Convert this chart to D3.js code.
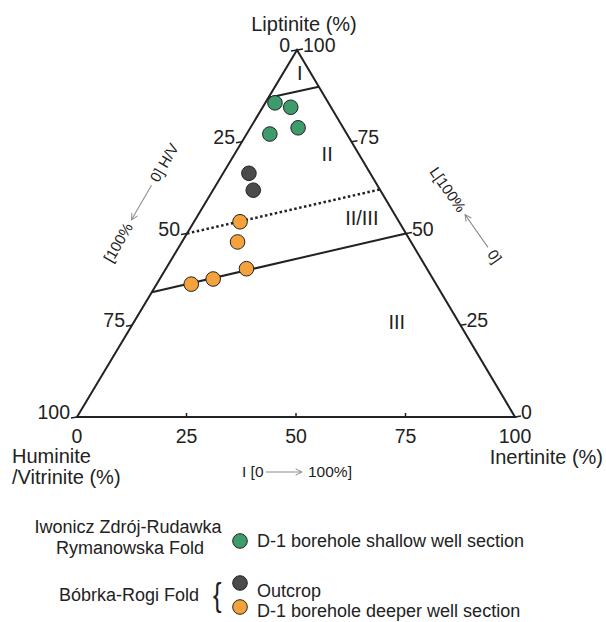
<!DOCTYPE html>
<html>
<head>
<meta charset="utf-8">
<script src="https://cdn.jsdelivr.net/npm/d3@7"></script>
<style>
  body { margin: 0; background: #fff; }
  svg text { font-family: "Liberation Sans", Arial, sans-serif; fill: #222; }
</style>
</head>
<body>
<div id="chart"></div>
<script>
// ternary values: [liptinite %, inertinite %], huminite/vitrinite is the rest
var ticks = [0, 25, 50, 75, 100];

var shallowLip = [85.6, 84.4, 77.1, 78.8];
var shallowIne = [2.2, 6.4, 5.3, 10.9];
var outcropLip = [66.4, 61.8];
var outcropIne = [5.9, 9.2];
var deeperLip = [53.2, 47.7, 40.4, 37.6, 36.2];
var deeperIne = [10.5, 12.7, 18.4, 12.2, 7.9];

// kerogen type boundaries, as [L, I] end points
var lineI_II = [[87, 0], [90, 10]];
var lineII_IIIdot = [[50, 0], [62, 38]];
var lineIII = [[34, 0], [50, 50]];

var regionNames = ["I", "II", "II/III", "III"];
var regionLip = [93.7, 71.7, 54.2, 25.9];
var regionIne = [3.8, 21.1, 37.8, 60];

var legendLabels = ["D-1 borehole shallow well section", "Outcrop", "D-1 borehole deeper well section"];
var colors = ["#3e9b6c", "#4b4b4d", "#f5a23d"];

var W = 606, H = 622;
var left = 77, right = 515, apexX = 297, base = 417, apexY = 50;

var svg = d3.select("#chart").append("svg")
	.attr("width", W)
	.attr("height", H);

var defs = svg.append("defs");
defs.append("marker")
	.attr("id", "head")
	.attr("viewBox", "0 0 10 10")
	.attr("refX", 9).attr("refY", 5)
	.attr("markerWidth", 8).attr("markerHeight", 8)
	.attr("markerUnits", "userSpaceOnUse")
	.attr("orient", "auto")
	.append("path")
	.attr("d", "M1,1 L9,5 L1,9")
	.attr("fill", "none")
	.attr("stroke", "#888")
	.attr("stroke-width", 1.2);

var ineX = d3.scaleLinear().domain([0, 100]).range([0, right - left]);
var lipX = d3.scaleLinear().domain([0, 100]).range([0, apexX - left]);
var lipY = d3.scaleLinear().domain([0, 100]).range([base, apexY]);

function px(L, I) { return left + lipX(L) + ineX(I); }
function py(L) { return lipY(L); }

// triangle
svg.append("path")
	.attr("d", "M" + px(100, 0) + "," + py(100) + "L" + px(0, 100) + "," + py(0) + "L" + px(0, 0) + "," + py(0) + "Z")
	.attr("fill", "none")
	.attr("stroke", "#222")
	.attr("stroke-width", 2)
	.attr("stroke-linejoin", "miter");

// boundary lines
[lineI_II, lineIII].forEach(function(seg) {
	svg.append("line")
		.attr("x1", px(seg[0][0], seg[0][1])).attr("y1", py(seg[0][0]))
		.attr("x2", px(seg[1][0], seg[1][1])).attr("y2", py(seg[1][0]))
		.attr("stroke", "#222").attr("stroke-width", 2);
});
svg.append("line")
	.attr("x1", px(lineII_IIIdot[0][0], lineII_IIIdot[0][1])).attr("y1", py(lineII_IIIdot[0][0]))
	.attr("x2", px(lineII_IIIdot[1][0], lineII_IIIdot[1][1])).attr("y2", py(lineII_IIIdot[1][0]))
	.attr("stroke", "#222").attr("stroke-width", 2.5)
	.style("stroke-dasharray", "2.5,2.5");

// ticks + labels
var tk = svg.append("g").attr("font-size", 19.5);
// bottom: inertinite
ticks.forEach(function(v) {
	var x = px(0, v);
	if (v > 0 && v < 100) {
		tk.append("line").attr("x1", x).attr("x2", x).attr("y1", base).attr("y2", base - 4)
			.attr("stroke", "#222").attr("stroke-width", 1.5);
	}
	tk.append("text").attr("x", x).attr("y", base + 26).attr("text-anchor", "middle").text(v);
});
// left: huminite/vitrinite (0 at top)
ticks.forEach(function(v) {
	var L = 100 - v, x = px(L, 0), y = py(L);
	tk.append("line").attr("x1", x).attr("x2", x - 6).attr("y1", y).attr("y2", y + 1)
		.attr("stroke", "#222").attr("stroke-width", 1.5);
	tk.append("text").attr("x", x - 7).attr("y", y + 2).attr("text-anchor", "end").text(v);
});
// right: liptinite (100 at top)
ticks.forEach(function(v) {
	var x = px(v, 100 - v), y = py(v);
	tk.append("line").attr("x1", x).attr("x2", x + 6).attr("y1", y).attr("y2", y - 1)
		.attr("stroke", "#222").attr("stroke-width", 1.5);
	tk.append("text").attr("x", x + 6).attr("y", y + 2).attr("text-anchor", "start").text(v);
});

// region labels
svg.selectAll("text.region")
	.data(regionNames)
	.enter().append("text")
	.attr("class", "region")
	.attr("font-size", 20)
	.attr("text-anchor", "middle")
	.attr("x", function(d, i) { return px(regionLip[i], regionIne[i]); })
	.attr("y", function(d, i) { return py(regionLip[i]) + 7; })
	.text(function(d) { return d; });

// data points
var groups = [
	{ lip: shallowLip, ine: shallowIne, c: colors[0] },
	{ lip: outcropLip, ine: outcropIne, c: colors[1] },
	{ lip: deeperLip, ine: deeperIne, c: colors[2] }
];
groups.forEach(function(g) {
	svg.append("g").selectAll("circle")
		.data(g.lip)
		.enter().append("circle")
		.attr("cx", function(d, i) { return px(d, g.ine[i]); })
		.attr("cy", function(d) { return py(d); })
		.attr("r", 7.3)
		.attr("fill", g.c)
		.attr("stroke", "#222")
		.attr("stroke-width", 1);
});

// axis titles
var ttl = svg.append("g").attr("font-size", 20);
ttl.append("text").attr("x", 304).attr("y", 31).attr("text-anchor", "middle").text("Liptinite (%)");
ttl.append("text").attr("x", 12).attr("y", 463).text("Huminite");
ttl.append("text").attr("x", 12).attr("y", 484).text("/Vitrinite (%)");
ttl.append("text").attr("x", 603).attr("y", 464).attr("text-anchor", "end").text("Inertinite (%)");

// direction hints with arrows (arrow head points to the 100% end)
function hint(cx, cy, angle, before, after, len) {
	var g = svg.append("g")
		.attr("transform", "translate(" + cx + "," + cy + ") rotate(" + angle + ")")
		.attr("font-size", 15);
	g.append("line")
		.attr("x1", len / 2).attr("y1", 0).attr("x2", -len / 2).attr("y2", 0)
		.attr("stroke", "#888").attr("stroke-width", 1)
		.attr("marker-end", "url(#head)");
	g.append("text").attr("x", -len / 2 - 5).attr("y", 5).attr("text-anchor", "end").text(before);
	g.append("text").attr("x", len / 2 + 5).attr("y", 5).attr("text-anchor", "start").text(after);
	return g;
}
hint(141.5, 202.5, -60, "[100%", "0] H/V", 40);
hint(476.5, 231, 55, "L[100%", "0]", 40);

// bottom hint: arrow points right
var bh = svg.append("g").attr("font-size", 15.5);
bh.append("text").attr("x", 242).attr("y", 477).text("I [0");
bh.append("line").attr("x1", 266).attr("y1", 472).attr("x2", 302).attr("y2", 472)
	.attr("stroke", "#888").attr("stroke-width", 1)
	.attr("marker-end", "url(#head)");
bh.append("text").attr("x", 308).attr("y", 477).text("100%]");

// legend
var lg = svg.append("g").attr("font-size", 18);
lg.append("text").attr("x", 128).attr("y", 533).attr("text-anchor", "middle").text("Iwonicz Zdrój-Rudawka");
lg.append("text").attr("x", 130).attr("y", 554).attr("text-anchor", "middle").text("Rymanowska Fold");
lg.append("text").attr("x", 129).attr("y", 601).attr("text-anchor", "middle").text("Bóbrka-Rogi Fold");
lg.append("text").attr("x", 213).attr("y", 606).attr("font-size", 34)
	.attr("font-weight", 300).text("{")
	.attr("transform", "translate(213,597) scale(0.75,1) translate(-213,-597)");

var legendY = [541, 583, 607];
var legendTextY = [547, 597, 617];
lg.selectAll("circle")
	.data(legendLabels)
	.enter().append("circle")
	.attr("cx", 240)
	.attr("cy", function(d, i) { return legendY[i]; })
	.attr("r", 7.3)
	.attr("fill", function(d, i) { return colors[i]; })
	.attr("stroke", "#222")
	.attr("stroke-width", 1);
lg.selectAll("text.item")
	.data(legendLabels)
	.enter().append("text")
	.attr("class", "item")
	.attr("x", 257)
	.attr("y", function(d, i) { return legendTextY[i]; })
	.text(function(d) { return d; });
</script>
</body>
</html>
